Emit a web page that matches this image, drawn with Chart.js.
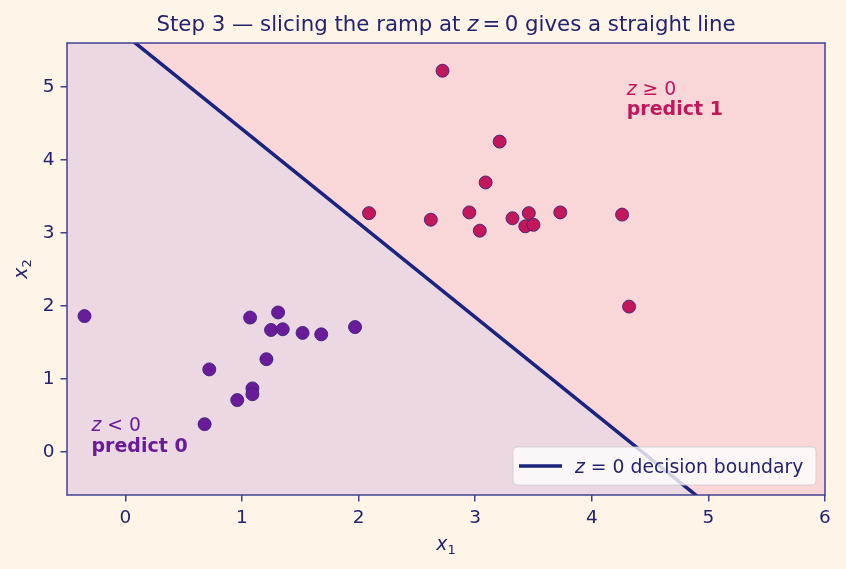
<!DOCTYPE html>
<html>
<head>
<meta charset="utf-8">
<script src="https://cdn.jsdelivr.net/npm/chart.js@4"></script>
<style>
  html, body { margin: 0; padding: 0; background: #fef4e8; }
  #wrap { width: 846px; height: 569px; }
</style>
</head>
<body>
<div id="wrap"><canvas id="chart" width="846" height="569"></canvas></div>
<script>
/* ===== DATA ===== */
const xTicks = [0, 1, 2, 3, 4, 5, 6];
const yTicks = [0, 1, 2, 3, 4, 5];

const class0X = [-0.35, 1.07, 1.31, 1.25, 1.35, 1.52, 1.68, 1.97, 1.21, 0.72, 1.09, 1.09, 0.96, 0.68];
const class0Y = [1.86, 1.84, 1.91, 1.67, 1.68, 1.63, 1.61, 1.71, 1.27, 1.13, 0.87, 0.79, 0.71, 0.38];

const class1X = [2.72, 3.21, 3.09, 2.09, 2.62, 2.95, 3.04, 3.32, 3.46, 3.43, 3.50, 3.73, 4.26, 4.32];
const class1Y = [5.22, 4.25, 3.69, 3.27, 3.18, 3.28, 3.03, 3.20, 3.27, 3.09, 3.11, 3.28, 3.25, 1.99];

// z = 0 line, x2 = 5.71 - 1.288 * x1
const boundaryX = [-0.5, 6];
const boundaryY = [6.354, -2.018];

/* ===== STYLE ===== */
const FONT = "'DejaVu Sans', sans-serif";
const NAVY = "#1a237e";
const SPINE = "#414190";
const TEXT = "#23236e";
const PINK = "#c2185b";
const PURPLE = "#6a1b9a";

const toPts = (xs, ys) => xs.map((x, i) => ({x: x, y: ys[i]}));

// draw a row of text pieces with mixed fonts
function drawRuns(ctx, runs, x, y, align, color) {
    let total = 0;
    runs.forEach(r => { ctx.font = r.font; total += ctx.measureText(r.t).width; });
    let cx = align === "center" ? x - total / 2 : x;
    ctx.fillStyle = color;
    ctx.textAlign = "left";
    ctx.textBaseline = "alphabetic";
    runs.forEach(r => {
        ctx.font = r.font;
        ctx.fillText(r.t, cx, y + (r.dy || 0));
        cx += ctx.measureText(r.t).width;
    });
}

const decor = {
    id: "decor",
    beforeDraw(chart) {
        const {ctx, chartArea: a} = chart;
        ctx.save();
        ctx.fillStyle = "#fef4e8";
        ctx.fillRect(0, 0, chart.width, chart.height);
        ctx.fillStyle = "#f9d6d7";
        ctx.fillRect(a.left, a.top, a.right - a.left, a.bottom - a.top);
        ctx.restore();
    },
    afterDatasetsDraw(chart) {
        const {ctx, scales} = chart;
        const px = v => scales.x.getPixelForValue(v);
        const py = v => scales.y.getPixelForValue(v);
        const reg = "18.8px " + FONT;
        const ital = "italic 18.8px " + FONT;
        const bold = "bold 19px " + FONT;
        ctx.save();
        drawRuns(ctx, [{t: "z", font: ital}, {t: " \u2265 0", font: reg}], px(4.3), py(4.62) - 20, "left", PINK);
        drawRuns(ctx, [{t: "predict 1", font: bold}], px(4.3), py(4.62), "left", PINK);
        drawRuns(ctx, [{t: "z", font: ital}, {t: " < 0", font: reg}], px(-0.29), py(0.0) - 21, "left", PURPLE);
        drawRuns(ctx, [{t: "predict 0", font: bold}], px(-0.29), py(0.0), "left", PURPLE);
        ctx.restore();
    },
    afterDraw(chart) {
        const {ctx, chartArea: a} = chart;
        ctx.save();
        // spines
        ctx.strokeStyle = SPINE;
        ctx.lineWidth = 1.5;
        ctx.strokeRect(a.left, a.top, a.right - a.left, a.bottom - a.top);

        // legend
        const lx = 513, ly = 447, lw = 303, lh = 38;
        ctx.beginPath();
        ctx.roundRect(lx, ly, lw, lh, 4);
        ctx.fillStyle = "rgba(255,255,255,0.8)";
        ctx.fill();
        ctx.strokeStyle = "rgba(204,204,204,0.8)";
        ctx.lineWidth = 1;
        ctx.stroke();
        ctx.beginPath();
        ctx.moveTo(lx + 6, ly + 19);
        ctx.lineTo(lx + 49, ly + 19);
        ctx.strokeStyle = NAVY;
        ctx.lineWidth = 3.5;
        ctx.stroke();
        drawRuns(ctx, [
            {t: "z", font: "italic 18.8px " + FONT},
            {t: " = 0 decision boundary", font: "18.8px " + FONT}
        ], lx + 62, ly + 26, "left", TEXT);

        // title
        drawRuns(ctx, [
            {t: "Step 3 \u2014 slicing the ramp at ", font: "21.3px " + FONT},
            {t: "z", font: "italic 21.3px " + FONT},
            {t: "\u2009=\u20090 gives a straight line", font: "21.3px " + FONT}
        ], (a.left + a.right) / 2, 31, "center", TEXT);

        // axis titles
        drawRuns(ctx, [
            {t: "x", font: "italic 18.8px " + FONT},
            {t: "1", font: "13px " + FONT, dy: 4}
        ], (a.left + a.right) / 2, 550, "center", TEXT);
        ctx.translate(27, (a.top + a.bottom) / 2);
        ctx.rotate(-Math.PI / 2);
        drawRuns(ctx, [
            {t: "x", font: "italic 18.8px " + FONT},
            {t: "2", font: "13px " + FONT, dy: 4}
        ], 0, 0, "center", TEXT);
        ctx.restore();
    }
};

const axisCommon = {
    grid: {display: true, drawOnChartArea: false, drawTicks: true, tickLength: 6.5, color: SPINE, lineWidth: 1.5},
    border: {display: false},
    ticks: {color: TEXT, font: {family: FONT, size: 18.5}, padding: 6}
};

new Chart(document.getElementById("chart"), {
    type: "scatter",
    data: {
        datasets: [
            {
                type: "line",
                data: toPts(boundaryX, boundaryY),
                borderColor: NAVY,
                borderWidth: 3.5,
                pointRadius: 0,
                fill: "start",
                backgroundColor: "#ecd8e2",
                order: 2
            },
            {
                data: toPts(class0X, class0Y),
                backgroundColor: PURPLE,
                borderColor: "#3b2478",
                borderWidth: 0.9,
                pointRadius: 6.5,
                order: 1
            },
            {
                data: toPts(class1X, class1Y),
                backgroundColor: PINK,
                borderColor: "#3b2478",
                borderWidth: 0.9,
                pointRadius: 6.5,
                order: 1
            }
        ]
    },
    options: {
        responsive: false,
        animation: false,
        layout: {padding: {top: 43, right: 21, left: 0, bottom: 0}},
        plugins: {legend: {display: false}, tooltip: {enabled: false}, title: {display: false}},
        scales: {
            x: {
                ...axisCommon,
                type: "linear",
                min: -0.5,
                max: 6,
                afterBuildTicks: s => { s.ticks = xTicks.map(v => ({value: v})); },
                afterFit: s => { s.height = 74; }
            },
            y: {
                ...axisCommon,
                type: "linear",
                min: -0.59,
                max: 5.6,
                afterBuildTicks: s => { s.ticks = yTicks.map(v => ({value: v})); },
                afterFit: s => { s.width = 67; }
            }
        }
    },
    plugins: [decor]
});
</script>
</body>
</html>
